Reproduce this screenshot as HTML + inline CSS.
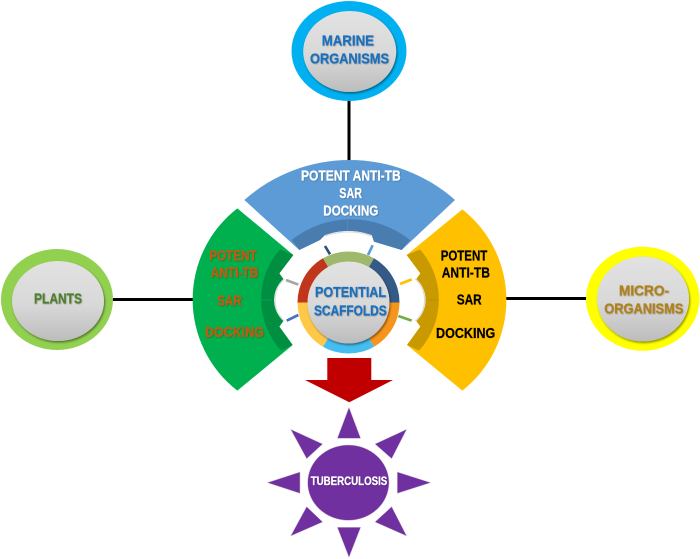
<!DOCTYPE html>
<html>
<head>
<meta charset="utf-8">
<style>
html,body{margin:0;padding:0;background:#fff;}
svg{display:block;}
text{font-family:"Liberation Sans",sans-serif;font-weight:bold;stroke-width:0.25px;}
.a text{stroke:#1a6fbb}.b text{stroke:#4f7f2f}.c text{stroke:#b0801a}.d text{stroke:#fff}.e text{stroke:#c55a11}.f text{stroke:#000}
</style>
</head>
<body>
<svg width="700" height="559" viewBox="0 0 700 559" xmlns="http://www.w3.org/2000/svg">
<defs>
<linearGradient id="disc" x1="0" y1="0" x2="0" y2="1">
<stop offset="0" stop-color="#e2e2e2"/><stop offset="0.55" stop-color="#d8d8d8"/><stop offset="1" stop-color="#bcbcbc"/>
</linearGradient>
<filter id="sh" x="-20%" y="-20%" width="140%" height="140%"><feDropShadow dx="1" dy="1.5" stdDeviation="1" flood-color="#000" flood-opacity="0.45"/></filter>
<filter id="ts" x="-10%" y="-30%" width="120%" height="160%"><feDropShadow dx="0.6" dy="0.6" stdDeviation="0.5" flood-color="#000" flood-opacity="0.3"/></filter>
<filter id="soft" x="-5%" y="-5%" width="110%" height="110%"><feGaussianBlur stdDeviation="0.35"/></filter>
</defs>

<!-- connectors -->
<g stroke="#000" stroke-width="3">
<line x1="349" y1="100" x2="349" y2="162"/>
<line x1="112" y1="299.5" x2="195" y2="299.5"/>
<line x1="505" y1="298.5" x2="587" y2="298.5"/>
</g>

<!-- sectors -->
<g transform="translate(180,150) scale(0.33333)" filter="url(#soft)">
<path d="M193,150 L358,300 L420,270 L435,255 A210,210 0 0 1 575,255 L582,275 L665,300 L825,150 A476,476 0 0 0 193,150 Z" fill="#5b9bd5"/>
<path d="M335,270 A284,284 0 0 1 690,270 L665,300 L582,275 L575,255 A210,210 0 0 0 435,255 L420,270 L358,300 Z" fill="#4a7db0"/>
<line x1="503" y1="208" x2="503" y2="243" stroke="#5d8dbb" stroke-width="2"/>

<path d="M172,175 L340,315 L298,370 L310,387 A85,85 0 0 0 310,513 L298,530 L338,585 L172,722 A346,346 0 0 1 172,175 Z" fill="#00b050"/>
<path d="M300,298 A228,228 0 0 0 303,602 L338,585 L298,530 L310,513 A85,85 0 0 1 310,387 L298,370 L340,315 Z" fill="#008f41"/>
<line x1="243" y1="450" x2="275" y2="450" stroke="#1f9c55" stroke-width="2"/>

<path d="M847,178 L680,315 L721,370 L709,387 A85,85 0 0 1 709,513 L721,530 L681,585 L847,722 A346,346 0 0 0 847,178 Z" fill="#ffc000"/>
<path d="M720,298 A228,228 0 0 1 717,602 L681,585 L721,530 L709,513 A85,85 0 0 0 709,387 L721,370 L680,315 Z" fill="#c99a00"/>
<line x1="742" y1="450" x2="775" y2="450" stroke="#b58b08" stroke-width="2"/>

<!-- window shade -->
<path d="M310,387 A85,85 0 0 0 310,513" fill="none" stroke="#dcdcdc" stroke-width="4" transform="translate(3,0)"/>
<path d="M709,387 A85,85 0 0 1 709,513" fill="none" stroke="#dcdcdc" stroke-width="4" transform="translate(-3,0)"/>
<path d="M435,255 A210,210 0 0 1 575,255" fill="none" stroke="#dcdcdc" stroke-width="4" transform="translate(0,3)"/>

<!-- ticks -->
<g stroke-width="8">
<line x1="435" y1="288" x2="450" y2="313" stroke="#2f4f7c"/>
<line x1="578" y1="286" x2="564" y2="315" stroke="#5b9bd5"/>
<line x1="318" y1="390" x2="355" y2="404" stroke="#a6a6a6"/>
<line x1="320" y1="512" x2="355" y2="495" stroke="#4472c4"/>
<line x1="660" y1="402" x2="695" y2="388" stroke="#ffc000"/>
<line x1="655" y1="498" x2="695" y2="512" stroke="#70ad47"/>
</g>
</g>

<!-- central ring -->
<g filter="url(#soft)">
<path d="M348.5,302.5 L323,258.3 A51,51 0 0 1 374,258.3 Z" fill="#9fb96c"/>
<path d="M348.5,302.5 L374,258.3 A51,51 0 0 1 399.5,302.5 Z" fill="#355a87"/>
<path d="M348.5,302.5 L399.5,302.5 A51,51 0 0 1 374,346.7 Z" fill="#f7941d"/>
<path d="M348.5,302.5 L374,346.7 A51,51 0 0 1 323,346.7 Z" fill="#45bdf0"/>
<path d="M348.5,302.5 L323,346.7 A51,51 0 0 1 297.5,302.5 Z" fill="#ffc84a"/>
<path d="M348.5,302.5 L297.5,302.5 A51,51 0 0 1 323,258.3 Z" fill="#c0341a"/>
</g>
<circle cx="348.5" cy="302.5" r="41" fill="url(#disc)" filter="url(#sh)"/>

<!-- outer nodes -->
<ellipse cx="349" cy="51" rx="57.5" ry="50" fill="#00b0f0"/>
<ellipse cx="349.7" cy="51.5" rx="46.5" ry="40.5" fill="url(#disc)" filter="url(#sh)"/>
<ellipse cx="57" cy="299.5" rx="56" ry="50.5" fill="#92d050"/>
<ellipse cx="58" cy="301" rx="46" ry="40" fill="url(#disc)" filter="url(#sh)"/>
<ellipse cx="642.7" cy="298.7" rx="56.7" ry="52" fill="#ffff00"/>
<ellipse cx="643" cy="299" rx="46" ry="42.5" fill="url(#disc)" filter="url(#sh)"/>

<!-- arrow -->
<polygon points="327.3,358 371.3,358 371.3,380 393,380 349.3,402.3 305,380 327.3,380" fill="#c00000"/>

<!-- sun -->
<g transform="translate(260,350) scale(0.33333)" fill="#7030a0" stroke="#c9b8d6" stroke-width="1.5">
<ellipse cx="265" cy="398" rx="122" ry="113"/>
<polygon points="267,172 232,265 302,265"/>
<polygon points="267,622 232,532 302,532"/>
<polygon points="22,398 120,366 120,430"/>
<polygon points="512,398 412,366 412,430"/>
<polygon points="92,238 188,282 140,326"/>
<polygon points="440,238 345,282 395,326"/>
<polygon points="92,558 140,470 188,516"/>
<polygon points="440,558 395,470 345,516"/>
</g>

<!-- labels -->
<g filter="url(#ts)" font-size="15">
<g fill="#1a6fbb" class="a">
<text x="321.7" y="45.5" textLength="52.3" lengthAdjust="spacingAndGlyphs">MARINE</text>
<text x="310" y="63.5" textLength="79" lengthAdjust="spacingAndGlyphs">ORGANISMS</text>
<text x="315" y="297" textLength="71" lengthAdjust="spacingAndGlyphs">POTENTIAL</text>
<text x="314" y="315.5" textLength="72.7" lengthAdjust="spacingAndGlyphs">SCAFFOLDS</text>
</g>
<g class="b"><text x="34" y="303.5" textLength="48" lengthAdjust="spacingAndGlyphs" fill="#4f7f2f">PLANTS</text></g>
<g fill="#b0801a" class="c">
<text x="619" y="295.5" textLength="50" lengthAdjust="spacingAndGlyphs">MICRO-</text>
<text x="604.3" y="313.5" textLength="79" lengthAdjust="spacingAndGlyphs">ORGANISMS</text>
</g>
<g fill="#ffffff" class="d">
<text x="301" y="180.5" textLength="99.7" lengthAdjust="spacingAndGlyphs">POTENT ANTI-TB</text>
<text x="339.3" y="198" textLength="22.7" lengthAdjust="spacingAndGlyphs">SAR</text>
<text x="323.3" y="215.5" textLength="55" lengthAdjust="spacingAndGlyphs">DOCKING</text>
<text x="310.7" y="485" font-size="12" textLength="76.6" lengthAdjust="spacingAndGlyphs">TUBERCULOSIS</text>
</g>
<g fill="#c55a11" class="e">
<text x="209.3" y="260.5" textLength="47.4" lengthAdjust="spacingAndGlyphs">POTENT</text>
<text x="210.7" y="277.5" textLength="47.6" lengthAdjust="spacingAndGlyphs">ANTI-TB</text>
<text x="217.3" y="305.5" textLength="24.4" lengthAdjust="spacingAndGlyphs">SAR</text>
<text x="205" y="337" textLength="59" lengthAdjust="spacingAndGlyphs">DOCKING</text>
</g>
</g>
<g font-size="15" fill="#000" class="f">
<text x="440.7" y="260.5" textLength="46.6" lengthAdjust="spacingAndGlyphs">POTENT</text>
<text x="441.7" y="277.5" textLength="48.3" lengthAdjust="spacingAndGlyphs">ANTI-TB</text>
<text x="456.7" y="304.5" textLength="25" lengthAdjust="spacingAndGlyphs">SAR</text>
<text x="436" y="338" textLength="59.3" lengthAdjust="spacingAndGlyphs">DOCKING</text>
</g>
</svg>
</body>
</html>
